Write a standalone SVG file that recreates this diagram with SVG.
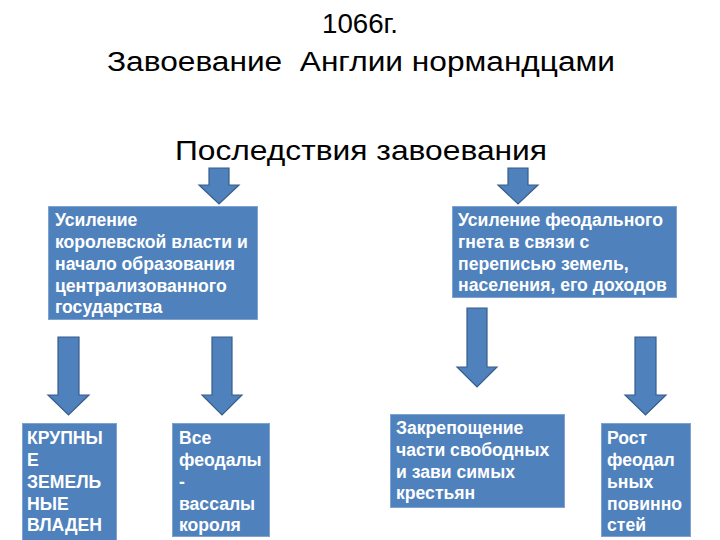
<svg xmlns="http://www.w3.org/2000/svg" width="720" height="540" viewBox="0 0 720 540">
<style>
.title{font-family:"Liberation Sans",Arial,sans-serif;fill:#000;text-anchor:middle}
.box{fill:#4F81BD;stroke:#7EA3D0;stroke-width:1}
.arrow{fill:#4F81BD;stroke:#385D8A;stroke-width:1.2}
.lbl{font-family:"Liberation Sans",Arial,sans-serif;font-weight:bold;font-size:17.6px;fill:#fff}
</style>
<rect width="720" height="540" fill="#fff"/>
<text class="title" x="360" y="33" font-size="27" textLength="76" lengthAdjust="spacingAndGlyphs">1066г.</text>
<text class="title" x="361" y="71" font-size="27" textLength="508" lengthAdjust="spacingAndGlyphs" xml:space="preserve">Завоевание  Англии нормандцами</text>
<text class="title" x="361" y="160" font-size="28" textLength="372" lengthAdjust="spacingAndGlyphs">Последствия завоевания</text>
<g id="connectors">
<path class="arrow" d="M209,168 H229 V185 H239 L219,204 L199,185 H209 Z"/>
<path class="arrow" d="M508,168 H528 V185 H538 L518,204 L498,185 H508 Z"/>
<path class="arrow" d="M58,337 H79 V395 H89 L68.5,415 L48,395 H58 Z"/>
<path class="arrow" d="M212,337 H232 V395 H242 L222,415 L202,395 H212 Z"/>
<path class="arrow" d="M467,308 H487 V367 H497 L477,387 L457,367 H467 Z"/>
<path class="arrow" d="M635,337 H656 V395 H666 L645.5,415 L625,395 H635 Z"/>
</g>
<g id="node-royal">
<rect class="box" x="48.5" y="206.5" width="209" height="113"/>
<text class="lbl"><tspan x="55" y="226">Усиление</tspan><tspan x="55" y="248">королевской власти и</tspan><tspan x="55" y="270">начало образования</tspan><tspan x="55" y="292">централизованного</tspan><tspan x="55" y="313">государства</tspan></text>
</g>
<g id="node-feudal">
<rect class="box" x="452.5" y="206.5" width="224" height="91"/>
<text class="lbl"><tspan x="458" y="226">Усиление феодального</tspan><tspan x="458" y="248">гнета в связи с</tspan><tspan x="458" y="270">переписью земель,</tspan><tspan x="458" y="291">населения, его доходов</tspan></text>
</g>
<g id="node-land">
<rect class="box" x="22.5" y="423.5" width="94" height="130"/>
<text class="lbl"><tspan x="27" y="444">КРУПНЫ</tspan><tspan x="27" y="466">Е</tspan><tspan x="27" y="488">ЗЕМЕЛЬ</tspan><tspan x="27" y="510">НЫЕ</tspan><tspan x="27" y="531">ВЛАДЕН</tspan><tspan x="27" y="553">ИЯ</tspan></text>
</g>
<g id="node-vassals">
<rect class="box" x="172.5" y="423.5" width="97" height="113"/>
<text class="lbl"><tspan x="179" y="444">Все</tspan><tspan x="179" y="466">феодалы</tspan><tspan x="179" y="488">-</tspan><tspan x="179" y="510">вассалы</tspan><tspan x="179" y="531">короля</tspan></text>
</g>
<g id="node-serfdom">
<rect class="box" x="390.5" y="414.5" width="174" height="93"/>
<text class="lbl"><tspan x="396" y="434">Закрепощение</tspan><tspan x="396" y="456">части свободных</tspan><tspan x="396" y="478">и зави симых</tspan><tspan x="396" y="499">крестьян</tspan></text>
</g>
<g id="node-duties">
<rect class="box" x="601.5" y="423.5" width="89" height="113"/>
<text class="lbl"><tspan x="607" y="444">Рост</tspan><tspan x="607" y="466">феодал</tspan><tspan x="607" y="488">ьных</tspan><tspan x="607" y="510">повинно</tspan><tspan x="607" y="531">стей</tspan></text>
</g>
</svg>
